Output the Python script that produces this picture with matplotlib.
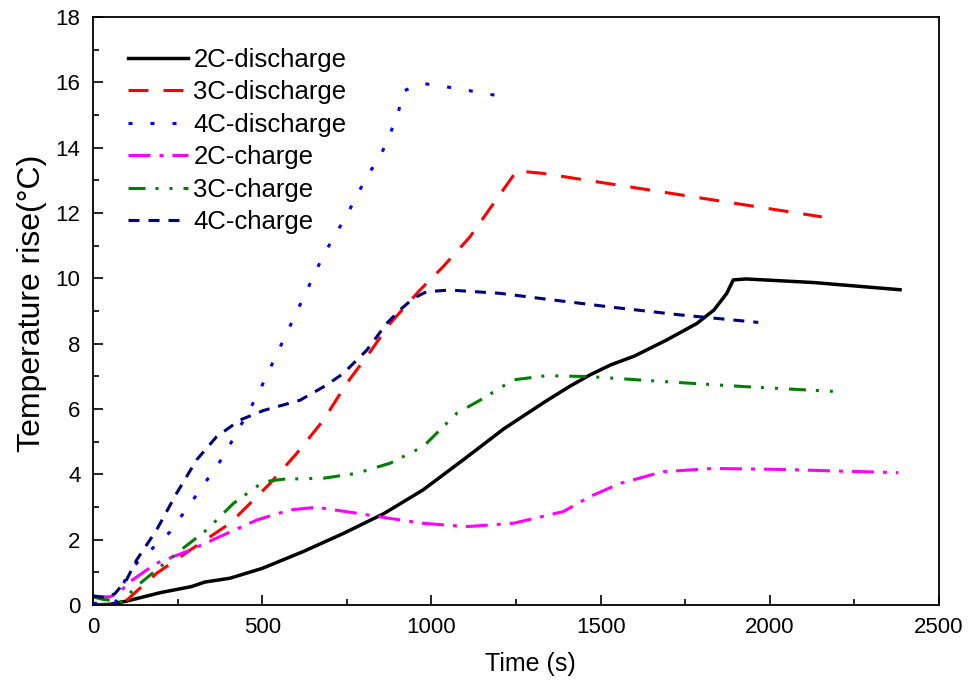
import matplotlib
matplotlib.use("Agg")
import matplotlib.pyplot as plt
from matplotlib.ticker import MultipleLocator

plt.rcParams['font.family'] = ['Liberation Sans', 'DejaVu Sans']
plt.rcParams['lines.scale_dashes'] = False

# 2C-discharge
t_2c_dis = [0, 50, 100, 200, 290, 330, 405, 500, 620, 740, 860, 975, 1095, 1215, 1340, 1410, 1470, 1530,
            1600, 1695, 1785, 1835, 1873, 1892, 1930, 2130, 2385]
T_2c_dis = [0, 0.02, 0.12, 0.38, 0.56, 0.7, 0.82, 1.12, 1.63, 2.19, 2.8, 3.52, 4.45, 5.4, 6.25, 6.7, 7.05, 7.35,
            7.62, 8.11, 8.62, 9.03, 9.54, 9.95, 9.98, 9.87, 9.65]
# 3C-discharge
t_3c_dis = [0, 85, 100, 188, 287, 405, 523, 602, 681, 750, 819, 878, 966, 1035, 1114, 1252, 1331, 2154]
T_3c_dis = [0, 0, 0.15, 0.97, 1.68, 2.5, 3.72, 4.64, 5.66, 6.79, 7.75, 8.62, 9.64, 10.36, 11.27, 13.29, 13.21, 11.88]
# 4C-discharge
t_4c_dis = [0, 65, 95, 129, 228, 306, 385, 415, 484, 681, 750, 809, 851, 878, 902, 917, 971,
            1040, 1104, 1168, 1232]
T_4c_dis = [0.05, 0.05, 0.77, 1.28, 2.24, 3.37, 4.54, 5.1, 6.38, 10.71, 11.94, 13.11, 13.78, 14.42, 15.07,
            15.73, 15.97, 15.87, 15.76, 15.64, 15.53]
# 2C-charge
t_2c_chg = [0, 50, 80, 103, 188, 287, 385, 484, 582, 661, 779, 878, 976, 1104, 1242, 1390, 1469,
            1557, 1685, 1833, 2030, 2380]
T_2c_chg = [0.25, 0.25, 0.4, 0.67, 1.28, 1.68, 2.14, 2.6, 2.91, 2.99, 2.81, 2.65, 2.5, 2.4, 2.5, 2.86, 3.32,
            3.72, 4.08, 4.18, 4.15, 4.05]
# 3C-charge
t_3c_chg = [0, 25, 83, 139, 247, 336, 415, 503, 562, 681, 779, 878, 976, 1075, 1144, 1242, 1341,
            1469, 1685, 1932, 2203]
T_3c_chg = [0.25, 0.18, 0.1, 0.66, 1.58, 2.3, 3.11, 3.77, 3.85, 3.88, 4.03, 4.34, 4.85, 5.87, 6.27, 6.89, 7.02,
            6.99, 6.84, 6.68, 6.53]
# 4C-charge
t_4c_chg = [0, 40, 65, 99, 129, 188, 247, 306, 365, 434, 503, 612, 690, 740, 809, 868, 907, 947,
            986, 1055, 1203, 1341, 1538, 1735, 1966]
T_4c_chg = [0.28, 0.22, 0.35, 0.77, 1.38, 2.3, 3.42, 4.44, 5.15, 5.66, 5.95, 6.27, 6.73, 7.09, 7.8, 8.62, 9.03, 9.39,
            9.59, 9.64, 9.54, 9.36, 9.11, 8.88, 8.65]

labels = ['2C-discharge', '3C-discharge', '4C-discharge', '2C-charge', '3C-charge', '4C-charge']

fig = plt.figure(figsize=(9.68, 6.87), dpi=100)
ax = fig.add_axes([0.0961, 0.1194, 0.8739, 0.8559])

p = 0.72  # px -> pt
lw = 2.2
ax.plot(t_2c_dis, T_2c_dis, color='black', lw=2.5, linestyle='-', label=labels[0])
ax.plot(t_3c_dis, T_3c_dis, color='#ff0000', lw=lw, linestyle=(0, (20 * p, 15 * p)), label=labels[1])
ax.plot(t_4c_dis, T_4c_dis, color='#0000ff', lw=lw, linestyle=(0, (4 * p, 18 * p)), label=labels[2])
ax.plot(t_2c_chg, T_2c_chg, color='#ff00ff', lw=lw,
        linestyle=(0, (22 * p, 9 * p, 4 * p, 9 * p)), label=labels[3])
ax.plot(t_3c_chg, T_3c_chg, color='#008000', lw=lw,
        linestyle=(0, (17 * p, 10 * p, 3 * p, 11 * p, 3 * p, 11 * p)), label=labels[4])
ax.plot(t_4c_chg, T_4c_chg, color='#000080', lw=lw, linestyle=(0, (11 * p, 9 * p)), label=labels[5])

ax.set_xlim(0, 2500)
ax.set_ylim(0, 18)
ax.xaxis.set_major_locator(MultipleLocator(500))
ax.xaxis.set_minor_locator(MultipleLocator(250))
ax.yaxis.set_major_locator(MultipleLocator(2))
ax.yaxis.set_minor_locator(MultipleLocator(1))
ax.tick_params(which='both', direction='in', top=False, right=False, labelsize=16, width=1.2)
ax.tick_params(which='major', length=7)
ax.tick_params(which='minor', length=4)
ax.tick_params(axis='x', pad=9)
ax.tick_params(axis='y', pad=9)
for s in ax.spines.values():
    s.set_linewidth(1.3)

ax.set_xlabel('Time (s)', fontsize=18, labelpad=10)
ax.xaxis.label.set_x(0.517)
ax.set_ylabel('Temperature rise(°C)', fontsize=23, labelpad=6)
ax.yaxis.label.set_y(0.513)

leg = ax.legend(loc='upper left', frameon=False, fontsize=18.5, handlelength=2.35,
                handletextpad=0.2, labelspacing=0.33, borderaxespad=0.3,
                bbox_to_anchor=(0.02, 0.978))

fig.savefig('out.png', dpi=100)
